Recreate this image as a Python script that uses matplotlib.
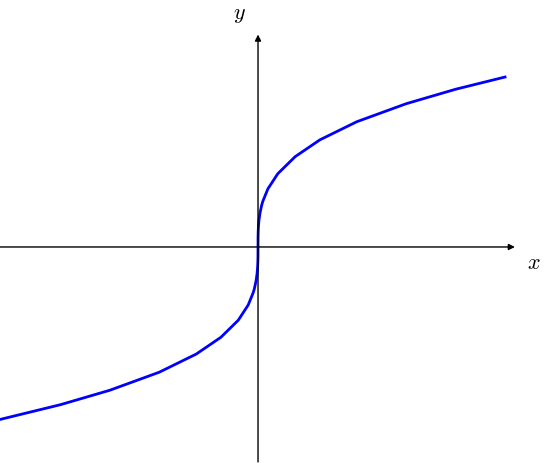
import matplotlib.pyplot as plt

plt.rcParams['mathtext.fontset'] = 'cm'

# curve points (y = cube root of x)
x_pos = [0, 0.0002, 0.0005, 0.001, 0.002, 0.004, 0.008, 0.015, 0.02, 0.04, 0.08,
         0.15, 0.25, 0.4, 0.6, 0.8, 1.0]
y_pos = [0, 0.058, 0.079, 0.1, 0.126, 0.159, 0.2, 0.247, 0.271, 0.342, 0.431,
         0.531, 0.630, 0.737, 0.843, 0.928, 1.0]
x_neg = [-1.045, -0.8, -0.6, -0.4, -0.25, -0.15, -0.08, -0.04, -0.02, -0.015,
         -0.008, -0.004, -0.002, -0.001, -0.0005, -0.0002]
y_neg = [-1.015, -0.928, -0.843, -0.737, -0.630, -0.531, -0.431, -0.342, -0.271,
         -0.247, -0.2, -0.159, -0.126, -0.1, -0.079, -0.058]

xs = x_neg + x_pos
ys = y_neg + y_pos

fig = plt.figure(figsize=(5.5, 4.64), dpi=100)
ax = fig.add_axes([0, 0, 1, 1])
ax.set_xlim(-1.0445, 1.182)
ax.set_ylim(-1.271, 1.459)
ax.axis('off')

arrow = dict(arrowstyle='-|>', color='black', lw=1.0, mutation_scale=9,
             shrinkA=0, shrinkB=0)
ax.annotate('', xy=(1.04, 0), xytext=(-1.0445, 0), arrowprops=arrow)
ax.annotate('', xy=(0, 1.25), xytext=(0, -1.265), arrowprops=arrow)

ax.plot(xs, ys, color='blue', lw=2)

ax.text(1.115, -0.09, '$x$', fontsize=16, ha='center', va='center')
ax.text(-0.075, 1.37, '$y$', fontsize=16, ha='center', va='center')

fig.savefig('out.png', dpi=100)
